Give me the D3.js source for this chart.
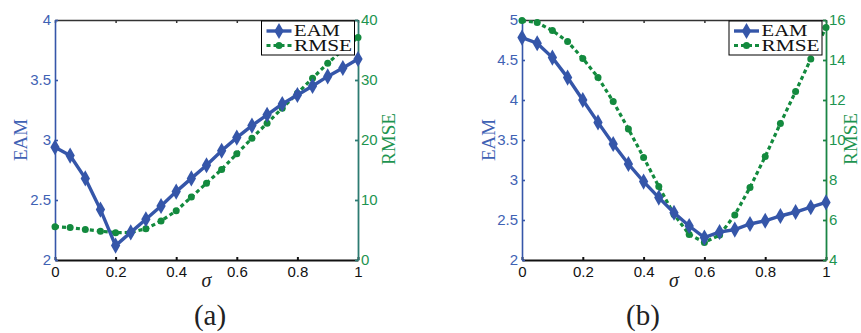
<!DOCTYPE html>
<html><head><meta charset="utf-8">
<script src="https://cdn.jsdelivr.net/npm/d3@7"></script>
<style>body{margin:0;background:#fff}svg{display:block}</style>
</head><body>
<svg id="c" width="861" height="333"></svg>
<script>
// ---- data ----
const sigma = [0,0.05,0.1,0.15,0.2,0.25,0.3,0.35,0.4,0.45,0.5,0.55,0.6,0.65,0.7,0.75,0.8,0.85,0.9,0.95,1];
const eamA  = [2.94,2.87,2.68,2.42,2.12,2.23,2.34,2.45,2.57,2.68,2.79,2.91,3.02,3.12,3.21,3.30,3.375,3.45,3.53,3.60,3.675];
const rmseA = [5.55,5.4,5.1,4.8,4.55,4.6,5.2,6.5,8.2,10.5,12.8,15.1,17.7,20.3,22.8,25.3,27.8,30.3,32.8,35.0,37.1];
const eamB  = [4.78,4.71,4.53,4.28,4.0,3.72,3.45,3.2,2.98,2.78,2.59,2.425,2.28,2.35,2.38,2.45,2.49,2.55,2.60,2.66,2.72];
const rmseB = [15.97,15.87,15.47,14.92,14.08,13.13,11.92,10.55,9.13,7.67,6.28,5.28,4.88,5.25,6.25,7.63,9.17,10.83,12.42,14.05,15.63];
const xTicks = [0,0.2,0.4,0.6,0.8,1];
const xTickLabels = ["0","0.2","0.4","0.6","0.8","1"];
const leftTicksA = [2,2.5,3,3.5,4];
const leftTickLabelsA = ["2","2.5","3","3.5","4"];
const rightTicksA = [0,10,20,30,40];
const rightTickLabelsA = ["0","10","20","30","40"];
const leftTicksB = [2,2.5,3,3.5,4,4.5,5];
const leftTickLabelsB = ["2","2.5","3","3.5","4","4.5","5"];
const rightTicksB = [4,6,8,10,12,14,16];
const rightTickLabelsB = ["4","6","8","10","12","14","16"];
const seriesNames = ["EAM","RMSE"];
const xLabel = "σ";
const panelLabels = ["(a)","(b)"];

// ---- styles ----
const BLUE = "#3556a9", BLUE_T = "#3f62b4";
const GREEN = "#138a3e", GREEN_T = "#1d9450";
const svg = d3.select("#c");

function panel(cfg){
  const x = d3.scaleLinear().domain([0,1]).range([cfg.x0,cfg.x1]);
  const yL = d3.scaleLinear().domain(cfg.lDom).range([cfg.y1,cfg.y0]);
  const yR = d3.scaleLinear().domain(cfg.rDom).range([cfg.y1,cfg.y0]);
  const g = svg.append("g");

  // top axis
  const top = g.append("g").attr("transform",`translate(0,${cfg.y0})`)
    .call(d3.axisTop(x).tickValues(xTicks).tickSize(-3).tickSizeOuter(0).tickFormat(""));
  top.selectAll("path,line").attr("stroke","#333").attr("stroke-width",1.5);

  // bottom axis
  const bot = g.append("g").attr("transform",`translate(0,${cfg.y1})`)
    .call(d3.axisBottom(x).tickValues(xTicks).tickSize(-3).tickSizeOuter(0).tickPadding(6)
      .tickFormat((d,i)=>xTickLabels[i]));
  bot.selectAll("path,line").attr("stroke","#111").attr("stroke-width",2);
  bot.selectAll("text").attr("font-family","Liberation Sans, Arial, sans-serif").attr("font-size",15).attr("fill","#111");

  // left axis
  const la = g.append("g").attr("transform",`translate(${cfg.x0},0)`)
    .call(d3.axisLeft(yL).tickValues(cfg.lTicks).tickSize(-3).tickSizeOuter(0).tickPadding(4)
      .tickFormat((d,i)=>cfg.lLabels[i]));
  la.selectAll("path,line").attr("stroke",BLUE).attr("stroke-width",1.6);
  la.selectAll("text").attr("font-family","Liberation Sans, Arial, sans-serif").attr("font-size",15).attr("fill",BLUE_T);

  // right axis
  const ra = g.append("g").attr("transform",`translate(${cfg.x1},0)`)
    .call(d3.axisRight(yR).tickValues(cfg.rTicks).tickSize(-3).tickSizeOuter(0).tickPadding(3)
      .tickFormat((d,i)=>cfg.rLabels[i]));
  ra.selectAll("path,line").attr("stroke",cfg.rSpine).attr("stroke-width",1.8);
  ra.selectAll("text").attr("font-family","Liberation Sans, Arial, sans-serif").attr("font-size",15).attr("fill",GREEN_T);

  // RMSE line
  const lineR = d3.line().x((d,i)=>x(sigma[i])).y(d=>yR(d));
  g.append("path").datum(cfg.rmse).attr("d",lineR).attr("fill","none")
    .attr("stroke",GREEN).attr("stroke-width",3.2).attr("stroke-dasharray","4,3");
  g.selectAll(null).data(cfg.rmse).join("circle")
    .attr("cx",(d,i)=>x(sigma[i])).attr("cy",d=>yR(d)).attr("r",3.5).attr("fill",GREEN);

  // EAM line
  const lineL = d3.line().x((d,i)=>x(sigma[i])).y(d=>yL(d));
  g.append("path").datum(cfg.eam).attr("d",lineL).attr("fill","none")
    .attr("stroke",BLUE).attr("stroke-width",3.4);
  const diamond = d3.symbol().type(d3.symbolDiamond).size(75);
  g.selectAll(null).data(cfg.eam).join("path")
    .attr("d",diamond).attr("transform",(d,i)=>`translate(${x(sigma[i])},${yL(d)})`).attr("fill",BLUE);

  // legend
  const lg = g.append("g").attr("transform",`translate(${cfg.legX},${cfg.legY})`);
  lg.append("rect").attr("x",0).attr("y",0).attr("width",93).attr("height",34)
    .attr("fill","#fff").attr("stroke","#000").attr("stroke-width",1);
  lg.append("line").attr("x1",5).attr("x2",30).attr("y1",10).attr("y2",10).attr("stroke",BLUE).attr("stroke-width",3.4);
  lg.append("path").attr("d",diamond).attr("transform","translate(17.5,10)").attr("fill",BLUE);
  lg.append("line").attr("x1",5).attr("x2",30).attr("y1",24.5).attr("y2",24.5).attr("stroke",GREEN).attr("stroke-width",3.2).attr("stroke-dasharray","4,3");
  lg.append("circle").attr("cx",17.5).attr("cy",24.5).attr("r",3.5).attr("fill",GREEN);
  lg.append("text").attr("x",32.5).attr("y",15).text(seriesNames[0])
    .attr("font-family","Liberation Serif, Times New Roman, serif").attr("font-size",14)
    .attr("textLength",46).attr("lengthAdjust","spacingAndGlyphs").attr("fill","#111")
    .attr("transform","translate(32.5,15) scale(1,1.15) translate(-32.5,-15)");
  lg.append("text").attr("x",32.5).attr("y",30.5).text(seriesNames[1])
    .attr("font-family","Liberation Serif, Times New Roman, serif").attr("font-size",14)
    .attr("textLength",58).attr("lengthAdjust","spacingAndGlyphs").attr("fill","#111")
    .attr("transform","translate(32.5,30.5) scale(1,1.15) translate(-32.5,-30.5)");

  // axis labels
  g.append("text").attr("transform",`translate(${cfg.lLabX},140) rotate(-90)`).attr("text-anchor","middle")
    .attr("font-family","Liberation Serif, Times New Roman, serif").attr("font-size",19).attr("fill",BLUE_T).text(seriesNames[0]);
  g.append("text").attr("transform",`translate(${cfg.rLabX},139) rotate(-90)`).attr("text-anchor","middle")
    .attr("font-family","Liberation Serif, Times New Roman, serif").attr("font-size",19).attr("fill",GREEN_T).text(seriesNames[1]);
  g.append("text").attr("x",(cfg.x0+cfg.x1)/2).attr("y",287).attr("text-anchor","middle")
    .attr("font-family","Liberation Serif, Times New Roman, serif").attr("font-style","italic").attr("font-size",20).attr("fill","#222").text(xLabel);
  g.append("text").attr("x",cfg.capX).attr("y",325).attr("text-anchor","middle")
    .attr("font-family","Liberation Serif, Times New Roman, serif").attr("font-size",29).attr("fill","#222").text(cfg.cap);
}

panel({x0:55,x1:358,y0:20,y1:260,lDom:[2,4],rDom:[0,40],eam:eamA,rmse:rmseA,
  lTicks:leftTicksA,lLabels:leftTickLabelsA,rTicks:rightTicksA,rLabels:rightTickLabelsA,
  rSpine:"#2d7b72",legX:261.5,legY:21,lLabX:27,rLabX:395,capX:210,cap:panelLabels[0]});
panel({x0:522,x1:826,y0:20,y1:260,lDom:[2,5],rDom:[4,16],eam:eamB,rmse:rmseB,
  lTicks:leftTicksB,lLabels:leftTickLabelsB,rTicks:rightTicksB,rLabels:rightTickLabelsB,
  rSpine:"#1a8445",legX:729,legY:21,lLabX:495,rLabX:857,capX:643,cap:panelLabels[1]});
</script>
</body></html>
